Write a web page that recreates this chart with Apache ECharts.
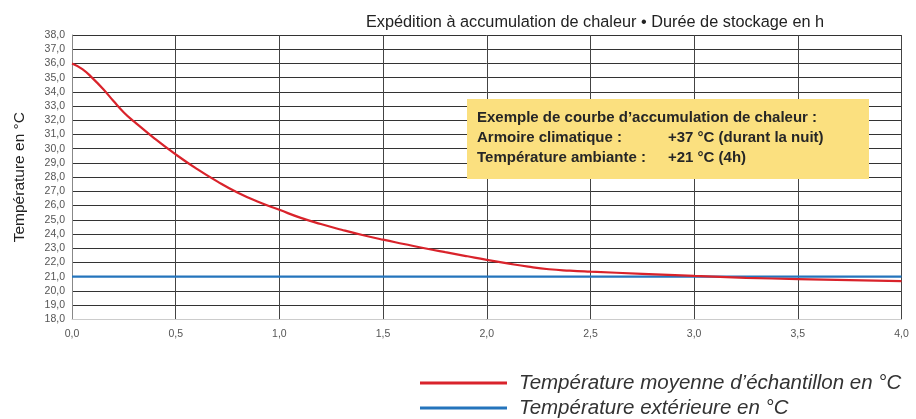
<!DOCTYPE html>
<html>
<head>
<meta charset="utf-8">
<script src="https://cdn.jsdelivr.net/npm/echarts@6/dist/echarts.min.js"></script>
<style>
html,body{margin:0;padding:0;background:#fff;}
#chart{width:916px;height:419px;}
</style>
</head>
<body>
<div id="chart"></div>
<script>
// Storage duration in hours
var hours = [0, 0.05, 0.1, 0.15, 0.2, 0.25, 0.3, 0.4, 0.5, 0.6, 0.7, 0.8, 0.9, 1.0, 1.1, 1.2, 1.3, 1.4, 1.5, 1.6, 1.7, 1.8, 1.9, 2.0, 2.1, 2.2, 2.3, 2.4, 2.5, 2.75, 3.0, 3.25, 3.5, 3.75, 4.0];
// Mean sample temperature (°C)
var sampleTemp = [36.0, 35.6, 34.95, 34.2, 33.35, 32.55, 31.9, 30.7, 29.6, 28.6, 27.7, 26.9, 26.25, 25.7, 25.15, 24.7, 24.3, 23.93, 23.6, 23.3, 23.0, 22.72, 22.45, 22.18, 21.93, 21.7, 21.52, 21.42, 21.35, 21.2, 21.05, 20.92, 20.83, 20.75, 20.68];
// Outside temperature (°C)
var outsideHours = [0, 4.0];
var outsideTemp = [21.0, 21.0];

var seriesNames = ['Température moyenne d\u2019échantillon en °C', 'Température extérieure en °C'];
var seriesColors = ['#D9232B', '#2474BC'];
var titleText = 'Expédition à accumulation de chaleur • Durée de stockage en h';
var yAxisName = 'Température en °C';
var noteLines = [
  ['Exemple de courbe d\u2019accumulation de chaleur :', ''],
  ['Armoire climatique :', '+37 °C (durant la nuit)'],
  ['Température ambiante :', '+21 °C (4h)']
];

function pairs(xs, ys) { return xs.map(function (x, i) { return [x, ys[i]]; }); }
function fr(v) { return v.toFixed(1).replace('.', ','); }

var FONT = '"Liberation Sans", Arial, sans-serif';
var chart = echarts.init(document.getElementById('chart'), null, { renderer: 'canvas' });

// Yellow note box with its three text lines
var noteGraphics = [{
  type: 'rect', left: 467, top: 99, shape: { width: 402, height: 80 },
  style: { fill: '#FBE07F' }, z: 10
}];
noteLines.forEach(function (ln, i) {
  noteGraphics.push({ type: 'text', left: 477, top: 110 + i * 20, z: 11,
    style: { text: ln[0], font: 'bold 15px ' + FONT, fill: '#262626' } });
  if (ln[1]) noteGraphics.push({ type: 'text', left: 668, top: 110 + i * 20, z: 11,
    style: { text: ln[1], font: 'bold 15px ' + FONT, fill: '#262626' } });
});

// One legend block per series, stacked
function legendFor(i, top) {
  return {
    left: 415, top: top, itemWidth: 87, itemHeight: 3, icon: 'rect',
    selectedMode: false,
    textStyle: { fontSize: 20.5, fontStyle: 'italic', color: '#333', fontFamily: FONT, padding: [0, 0, 0, 7] },
    data: [seriesNames[i]]
  };
}

chart.setOption({
  animation: false,
  textStyle: { fontFamily: FONT },
  title: {
    text: titleText, left: 590, top: 10, textAlign: 'center',
    textStyle: { fontSize: 16.3, fontWeight: 'normal', color: '#222', fontFamily: FONT }
  },
  grid: { left: 72, right: 14.5, top: 35, bottom: 99.7, containLabel: false, outerBoundsMode: 'none' },
  legend: [legendFor(0, 368), legendFor(1, 393)],
  xAxis: {
    type: 'value', min: 0, max: 4, interval: 0.5,
    axisLine: { show: true, lineStyle: { color: '#ccc', width: 1 } },
    axisTick: { show: false },
    axisLabel: { formatter: fr, color: '#555', fontSize: 10.5, margin: 9 },
    splitLine: { show: true, lineStyle: { color: '#444', width: 1 } }
  },
  yAxis: {
    type: 'value', min: 18, max: 38, interval: 1,
    name: yAxisName, nameLocation: 'middle', nameGap: 44, nameRotate: 90,
    nameTextStyle: { fontSize: 15.5, color: '#222', fontFamily: FONT },
    axisLine: { show: true, lineStyle: { color: '#888', width: 1 } },
    axisTick: { show: false },
    axisLabel: { formatter: fr, color: '#555', fontSize: 10.5, margin: 7 },
    splitLine: { show: true, lineStyle: { color: '#333', width: 1 } }
  },
  graphic: noteGraphics,
  series: [
    {
      name: seriesNames[0], type: 'line', data: pairs(hours, sampleTemp),
      smooth: 0.5, symbol: 'none', z: 5,
      lineStyle: { color: seriesColors[0], width: 2.2 }, itemStyle: { color: seriesColors[0] }
    },
    {
      name: seriesNames[1], type: 'line', data: pairs(outsideHours, outsideTemp),
      symbol: 'none', z: 4,
      lineStyle: { color: seriesColors[1], width: 2.2 }, itemStyle: { color: seriesColors[1] }
    }
  ]
});
</script>
</body>
</html>
